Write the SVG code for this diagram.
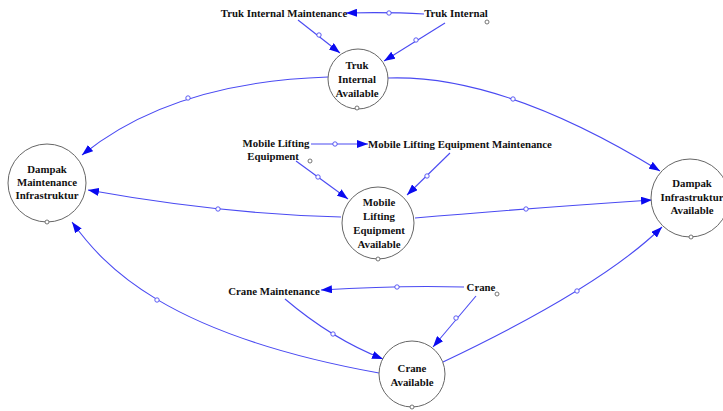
<svg xmlns="http://www.w3.org/2000/svg" width="723" height="411" viewBox="0 0 723 411">
<style>
.bg{fill:#ffffff}
.node{fill:#ffffff;stroke:#666666;stroke-width:1}
.tag{fill:#ffffff;stroke:#666666;stroke-width:0.9}
.lbl{font-family:"Liberation Serif","Times New Roman",serif;font-weight:bold;font-size:10.8px;fill:#111111;text-anchor:middle}
.link{fill:none;stroke:#4a4af2;stroke-width:1.1;marker-end:url(#ah)}
.dot{fill:#ffffff;stroke:#4a4af2;stroke-width:0.9}
</style>
<defs>
<marker id="ah" markerUnits="userSpaceOnUse" markerWidth="11" markerHeight="8" refX="11" refY="4" orient="auto">
<path d="M0,0 L11,4 L0,8 z" fill="#0a0af0"/>
</marker>
</defs>
<rect class="bg" x="0" y="0" width="723" height="411"/>

<g id="connectors">
<path class="link" d="M424,14 Q390,12 346,13"/>
<circle class="dot" cx="389" cy="13" r="2.2"/>
<path class="link" d="M298,20 L340,53"/>
<circle class="dot" cx="319" cy="35" r="2.2"/>
<path class="link" d="M445,23 L384,61"/>
<circle class="dot" cx="416" cy="40" r="2.2"/>
<path class="link" d="M328,77 Q172,82 82,155"/>
<circle class="dot" cx="188" cy="98" r="2.2"/>
<path class="link" d="M388,78 Q502,74 660,171"/>
<circle class="dot" cx="513" cy="99" r="2.2"/>
<path class="link" d="M311,144 L368,144"/>
<circle class="dot" cx="335" cy="144" r="2.2"/>
<path class="link" d="M296,161 L348,199"/>
<circle class="dot" cx="318" cy="177" r="2.2"/>
<path class="link" d="M450,153 L407,195"/>
<circle class="dot" cx="427" cy="176" r="2.2"/>
<path class="link" d="M341,217 Q221,214 88,190"/>
<circle class="dot" cx="218" cy="209" r="2.2"/>
<path class="link" d="M415,218 Q518,209 652,200"/>
<circle class="dot" cx="526" cy="209" r="2.2"/>
<path class="link" d="M464,287 Q401,285 321,290"/>
<circle class="dot" cx="397" cy="287" r="2.2"/>
<path class="link" d="M285,299 Q332,339 383,359"/>
<circle class="dot" cx="333" cy="334" r="2.2"/>
<path class="link" d="M476,296 L433,347"/>
<circle class="dot" cx="456" cy="318" r="2.2"/>
<path class="link" d="M379,373 C164,334 104,266 72,222"/>
<circle class="dot" cx="157" cy="300" r="2.2"/>
<path class="link" d="M443,362 Q601,287 662,227"/>
<circle class="dot" cx="577" cy="291" r="2.2"/>
</g>

<g id="truk-internal-maintenance">
<text class="lbl" x="284" y="17">Truk Internal Maintenance</text>
</g>
<g id="truk-internal">
<text class="lbl" x="456" y="17">Truk Internal</text>
<circle class="tag" cx="487" cy="22" r="2"/>
</g>
<g id="truk-internal-available">
<circle class="node" cx="358" cy="79" r="30"/>
<text class="lbl" x="357" y="69">Truk</text>
<text class="lbl" x="357" y="83">Internal</text>
<text class="lbl" x="357" y="97">Available</text>
<circle class="tag" cx="357" cy="108" r="2"/>
</g>
<g id="dampak-maintenance-infrastruktur">
<circle class="node" cx="47" cy="183" r="39"/>
<text class="lbl" x="47" y="173">Dampak</text>
<text class="lbl" x="47" y="186">Maintenance</text>
<text class="lbl" x="47" y="199">Infrastruktur</text>
<circle class="tag" cx="47" cy="222" r="2"/>
</g>
<g id="mobile-lifting-equipment">
<text class="lbl" x="276" y="147">Mobile Lifting</text>
<text class="lbl" x="273" y="160">Equipment</text>
<circle class="tag" cx="310" cy="161" r="2"/>
</g>
<g id="mobile-lifting-equipment-maintenance">
<text class="lbl" x="460" y="148">Mobile Lifting Equipment Maintenance</text>
</g>
<g id="mobile-lifting-equipment-available">
<circle class="node" cx="378" cy="223" r="36"/>
<text class="lbl" x="379" y="206">Mobile</text>
<text class="lbl" x="379" y="220">Lifting</text>
<text class="lbl" x="379" y="234">Equipment</text>
<text class="lbl" x="379" y="248">Available</text>
<circle class="tag" cx="378" cy="259" r="2"/>
</g>
<g id="dampak-infrastruktur-available">
<circle class="node" cx="690" cy="198" r="39"/>
<text class="lbl" x="692" y="187">Dampak</text>
<text class="lbl" x="692" y="201">Infrastruktur</text>
<text class="lbl" x="692" y="214">Available</text>
<circle class="tag" cx="691" cy="237" r="2"/>
</g>
<g id="crane-maintenance">
<text class="lbl" x="274" y="295">Crane Maintenance</text>
</g>
<g id="crane">
<text class="lbl" x="481" y="291">Crane</text>
<circle class="tag" cx="497" cy="294" r="2"/>
</g>
<g id="crane-available">
<circle class="node" cx="412" cy="374" r="33"/>
<text class="lbl" x="412" y="372">Crane</text>
<text class="lbl" x="412" y="386">Available</text>
<circle class="tag" cx="412" cy="407" r="2"/>
</g>
</svg>
